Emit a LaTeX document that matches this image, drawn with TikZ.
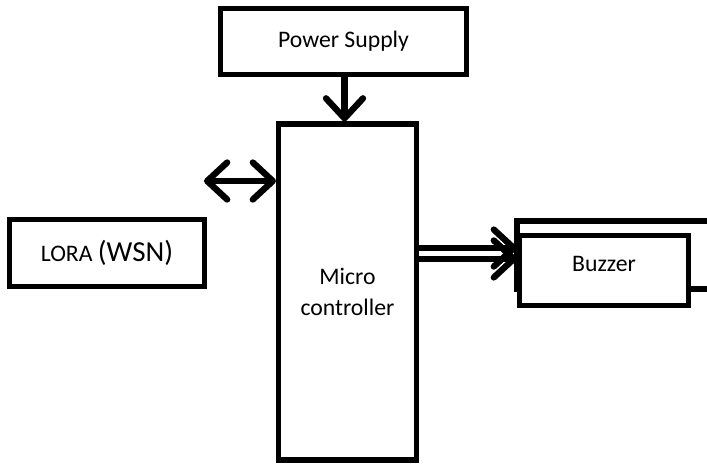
\documentclass[tikz,border=0pt]{standalone}
\usepackage{fontspec}
\setmainfont{Carlito}
\usepackage{tikz}
\usetikzlibrary{
	arrows.meta,
	calc,
	positioning,
}
\tikzset{block/.style={
	draw,
	rectangle,
	fill=white,
	line width=2.9pt,
	inner sep=0mm,
	align=center,
	font=\fontsize{13.5}{18}\selectfont,
}}
\tikzset{barb/.tip={Straight Barb[round,length=4mm,width=7.4mm]}}
\tikzset{link/.style={
	line width=3.6pt,
	-barb,
}}

\begin{document}
\begin{tikzpicture}[x=0.02cm, y=-0.02cm]

\clip (0,0) rectangle (707,464);
\fill[white] (0,0) rectangle (707,464);

% back frame of the buzzer
\draw[line width=2.9pt] (517,221) rectangle (740,289);

\node[block, minimum width=4.92cm, minimum height=1.32cm](ps)  at (343.5,41.5) {Power Supply};
\node[block, minimum width=2.76cm, minimum height=6.72cm](mc) at (347.5,292) {Micro\\controller};
\node[block, minimum width=3.9cm, minimum height=1.34cm](lora) at (107,253) {LORA {\fontsize{16.5}{18}\selectfont(WSN)}};
\node[block, minimum width=3.38cm, minimum height=1.4cm](bz) at (604,270.5) {\raisebox{7.5pt}{Buzzer}};

\coordinate(w) at (204,181);

% PS -> MC
\draw[link] (ps.south -| 344.5,0) -- (mc.north -| 344.5,0);

% WSN <-> MC
\draw[link, barb-barb] (w) -- (mc.west |- w);

% MC -> Buzzer (double line)
\draw[link, transform canvas={yshift=3.1pt}] (mc.east |- 0,253.5) -- (bz.west |- 0,253.5);
\draw[link, transform canvas={yshift=-3.1pt}] (mc.east |- 0,253.5) -- (bz.west |- 0,253.5);

\end{tikzpicture}
\end{document}
